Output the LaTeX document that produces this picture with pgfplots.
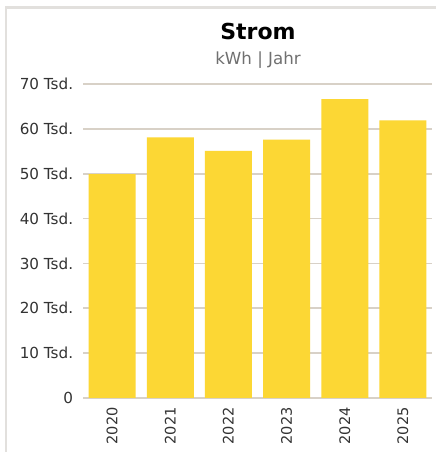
\documentclass[border=0pt]{standalone}
\usepackage{pgfplots}
\pgfplotsset{compat=1.18}
\usepackage{fontspec}
\setmainfont{DejaVu Sans}
\definecolor{baryellow}{RGB}{252,215,52}
\definecolor{gridc}{RGB}{216,209,199}
\definecolor{framec}{RGB}{226,224,221}
\definecolor{tickc}{RGB}{51,51,51}
\definecolor{subc}{RGB}{112,112,112}
\begin{document}
\begin{tikzpicture}
\useasboundingbox (0,0) rectangle (327pt,339pt);
\fill[white] (0,0) rectangle (327pt,339pt);
\draw[framec, line width=1.6pt] (4.75pt,-2pt) -- (4.75pt,333.4pt) -- (327pt,333.4pt);
\node[anchor=base, font=\fontsize{16.5}{19}\selectfont\bfseries] at (193.5pt,309.5pt) {Strom};
\node[anchor=base, font=\fontsize{12.5}{15}\selectfont, text=subc] at (193.5pt,290.25pt) {kWh | Jahr};
\begin{axis}[
  at={(62.25pt,40.5pt)}, anchor=south west,
  scale only axis, width=261.75pt, height=235.5pt,
  xmin=-0.5, xmax=5.5, ymin=0, ymax=70000,
  axis line style={draw=none}, major tick length=0pt,
  ytick={0,10000,20000,30000,40000,50000,60000,70000},
  yticklabels={0,10 Tsd.,20 Tsd.,30 Tsd.,40 Tsd.,50 Tsd.,60 Tsd.,70 Tsd.},
  xtick={0,1,2,3,4,5},
  xticklabels={2020,2021,2022,2023,2024,2025},
  ymajorgrids, grid style={gridc, line width=1.2pt},
  yticklabel style={font=\fontsize{11.4}{13}\selectfont, text=tickc, anchor=east, inner sep=0pt},
  xticklabel style={font=\fontsize{10.9}{13}\selectfont, text=tickc, rotate=90, anchor=east, inner sep=0pt},
  yticklabel shift=7.2pt,
  xticklabel shift=6.75pt,
  ybar, bar width=35.25pt,
  scaled y ticks=false,
]
\addplot[fill=baryellow, draw=none] coordinates {
  (0,49900) (1,58100) (2,55100) (3,57600) (4,66600) (5,61900)
};
\end{axis}
\end{tikzpicture}
\end{document}
